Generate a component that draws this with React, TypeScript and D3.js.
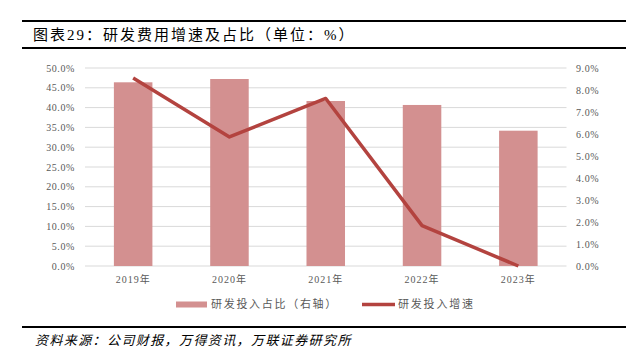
import React from "react";
import * as d3 from "d3";

const categories = ["2019年", "2020年", "2021年", "2022年", "2023年"];
const ratioValues = [8.35, 8.5, 7.5, 7.32, 6.15]; // 研发投入占比 (右轴)
const growthValues = [47.5, 32.6, 42.3, 10.2, 0]; // 研发投入增速 (左轴)
const leftTicks = [0, 5, 10, 15, 20, 25, 30, 35, 40, 45, 50];
const rightTicks = [0, 1, 2, 3, 4, 5, 6, 7, 8, 9];
const seriesNames = ["研发投入占比（右轴）", "研发投入增速"];
const titleText = "图表29：研发费用增速及占比（单位：%）";
const sourceText = "资料来源：公司财报，万得资讯，万联证券研究所";

const W = 629;
const H = 363;
const BAR = "#D39090";
const LINE = "#B3433F";
const GRID = "#D9D9D9";
const TXT = "#595959";
const FONT = '"Liberation Serif", "Noto Sans CJK SC", serif';

export default function App() {
  const x = d3.scaleBand<string>().domain(categories).range([85, 566.5]).paddingInner(0.6).paddingOuter(0.3);
  const yL = d3.scaleLinear().domain([0, 50]).range([266, 68]);
  const yR = d3.scaleLinear().domain([0, 9]).range([266, 68]);
  const line = d3
    .line<number>()
    .x((_, i) => (x(categories[i]) as number) + x.bandwidth() / 2)
    .y((d) => yL(d));

  return (
    <svg width={W} height={H} style={{ position: "absolute", left: 0, top: 0, background: "#fff" }} fontFamily={FONT}>
      <rect x={0} y={0} width={W} height={H} fill="#fff" />
      {/* title */}
      <line x1={22} x2={626} y1={21} y2={21} stroke="#000" strokeWidth={2.2} />
      <text x={33} y={40} fontSize={15} fill="#000" letterSpacing={2}>{titleText}</text>
      <line x1={22} x2={626} y1={48} y2={48} stroke="#000" strokeWidth={2.2} />

      {/* gridlines */}
      {leftTicks.map((t) => (
        <line key={"g" + t} x1={85} x2={566.5} y1={yL(t)} y2={yL(t)} stroke={GRID} strokeWidth={1} />
      ))}
      {/* left labels */}
      {leftTicks.map((t) => (
        <text key={"l" + t} x={75} y={yL(t) + 3.5} fontSize={10} fill={TXT} textAnchor="end" letterSpacing={0.6}>
          {t.toFixed(1) + "%"}
        </text>
      ))}
      {/* right labels */}
      {rightTicks.map((t) => (
        <text key={"r" + t} x={576} y={yR(t) + 3.5} fontSize={10} fill={TXT} letterSpacing={0.6}>
          {t.toFixed(1) + "%"}
        </text>
      ))}
      {/* bars */}
      {ratioValues.map((v, i) => (
        <rect
          key={"b" + i}
          x={x(categories[i])}
          y={yR(v)}
          width={x.bandwidth()}
          height={yR(0) - yR(v)}
          fill={BAR}
        />
      ))}
      {/* line */}
      <path d={line(growthValues) || ""} fill="none" stroke={LINE} strokeWidth={3.5} strokeLinejoin="round" />
      {/* x labels */}
      {categories.map((c) => (
        <text
          key={"x" + c}
          x={(x(c) as number) + x.bandwidth() / 2}
          y={283}
          fontSize={10}
          fill={TXT}
          textAnchor="middle"
          letterSpacing={1}
        >
          {c}
        </text>
      ))}
      {/* legend */}
      <rect x={176} y={301.5} width={31} height={6} fill={BAR} />
      <text x={211} y={308} fontSize={11} fill={TXT} letterSpacing={1.7}>{seriesNames[0]}</text>
      <line x1={362} x2={395} y1={304.5} y2={304.5} stroke={LINE} strokeWidth={3.5} />
      <text x={398} y={308} fontSize={11} fill={TXT} letterSpacing={1.8}>{seriesNames[1]}</text>

      {/* source */}
      <line x1={22} x2={626} y1={327} y2={327} stroke="#000" strokeWidth={2.2} />
      <text x={35} y={345} fontSize={13} fill="#000" fontStyle="italic" letterSpacing={1.4}>{sourceText}</text>
    </svg>
  );
}
